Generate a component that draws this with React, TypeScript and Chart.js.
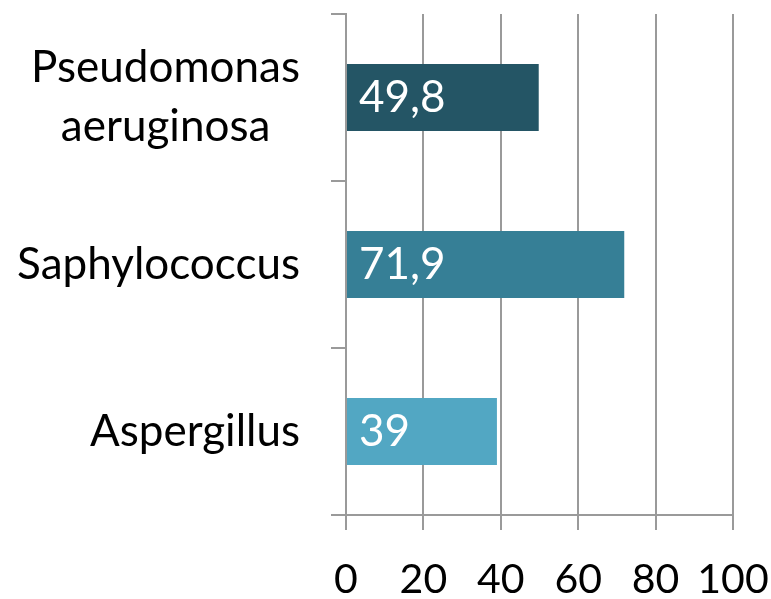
import React, { useEffect, useRef } from "react";
import { Chart, registerables } from "chart.js";

Chart.register(...registerables);

const categories: (string | string[])[] = [["Pseudomonas", "aeruginosa"], "Saphylococcus", "Aspergillus"];
const values = [49.8, 71.9, 39];
const valueLabels = ["49,8", "71,9", "39"];
const barColors = ["#245565", "#367F96", "#52A7C3"];
const xTickValues = [0, 20, 40, 60, 80, 100];

const FONT_FAMILY = "Lato, 'Open Sans', sans-serif";
const LABEL_SIZE = 44;
const TICK_SIZE = 41;
const GRID_COLOR = "#9a9a9a";

export default function App() {
  const canvasRef = useRef<HTMLCanvasElement | null>(null);

  useEffect(() => {
    document.body.style.margin = "0";
    const canvas = canvasRef.current;
    if (!canvas) return;

    const valueLabelPlugin = {
      id: "valueLabels",
      afterDatasetsDraw(chart: any) {
        const ctx = chart.ctx;
        const meta = chart.getDatasetMeta(0);
        ctx.save();
        ctx.font = `${LABEL_SIZE}px ${FONT_FAMILY}`;
        ctx.fillStyle = "#ffffff";
        ctx.textAlign = "left";
        ctx.textBaseline = "middle";
        meta.data.forEach((bar: any, i: number) => {
          ctx.fillText(valueLabels[i], bar.base + 12, bar.y);
        });
        ctx.restore();
      },
    };

    const categoryLabelPlugin = {
      id: "categoryLabels",
      afterDraw(chart: any) {
        const ctx = chart.ctx;
        const yScale = chart.scales.y;
        const rightEdge = yScale.right - 15 - 31;
        const lineHeight = 59;
        ctx.save();
        ctx.font = `${LABEL_SIZE}px ${FONT_FAMILY}`;
        ctx.fillStyle = "#000000";
        ctx.textBaseline = "middle";
        ctx.textAlign = "center";
        categories.forEach((cat, i) => {
          const lines = Array.isArray(cat) ? cat : [cat];
          const widths = lines.map((l) => ctx.measureText(l).width);
          const blockW = Math.max(...widths);
          const cx = rightEdge - blockW / 2;
          const cy = yScale.getPixelForTick(i);
          lines.forEach((l, j) => {
            ctx.fillText(l, cx, cy + (j - (lines.length - 1) / 2) * lineHeight);
          });
        });
        ctx.restore();
      },
    };

    const chart = new Chart(canvas, {
      type: "bar",
      data: {
        labels: categories as any,
        datasets: [
          {
            data: values,
            backgroundColor: barColors,
            borderWidth: 0,
            categoryPercentage: 1,
            barPercentage: 0.4,
          },
        ],
      },
      options: {
        indexAxis: "y",
        responsive: false,
        maintainAspectRatio: false,
        animation: false,
        layout: { padding: { top: 14, right: 38, left: 0, bottom: 0 } },
        plugins: {
          legend: { display: false },
          tooltip: { enabled: false },
          title: { display: false },
        },
        scales: {
          x: {
            type: "linear",
            min: 0,
            max: 100,
            afterBuildTicks(scale: any) {
              scale.ticks = xTickValues.map((v) => ({ value: v }));
            },
            afterFit(scale: any) {
              scale.height = 84;
              scale.paddingLeft = 0;
              scale.paddingRight = 0;
            },
            ticks: {
              color: "#000000",
              font: { family: FONT_FAMILY, size: TICK_SIZE },
              padding: 25,
              maxRotation: 0,
              autoSkip: false,
            },
            grid: {
              color: GRID_COLOR,
              lineWidth: 2,
              drawTicks: true,
              tickLength: 15,
            },
            border: { display: true, color: GRID_COLOR, width: 2 },
          },
          y: {
            type: "category",
            afterFit(scale: any) {
              scale.width = 346;
            },
            ticks: { display: false },
            grid: {
              offset: true,
              drawOnChartArea: false,
              drawTicks: true,
              tickLength: 15,
              color: GRID_COLOR,
              lineWidth: 2,
            },
            border: { display: true, color: GRID_COLOR, width: 2 },
          },
        },
      },
      plugins: [valueLabelPlugin, categoryLabelPlugin],
    });

    return () => chart.destroy();
  }, []);

  return (
    <div style={{ width: 771, height: 599 }}>
      <canvas ref={canvasRef} width={771} height={599} />
    </div>
  );
}
